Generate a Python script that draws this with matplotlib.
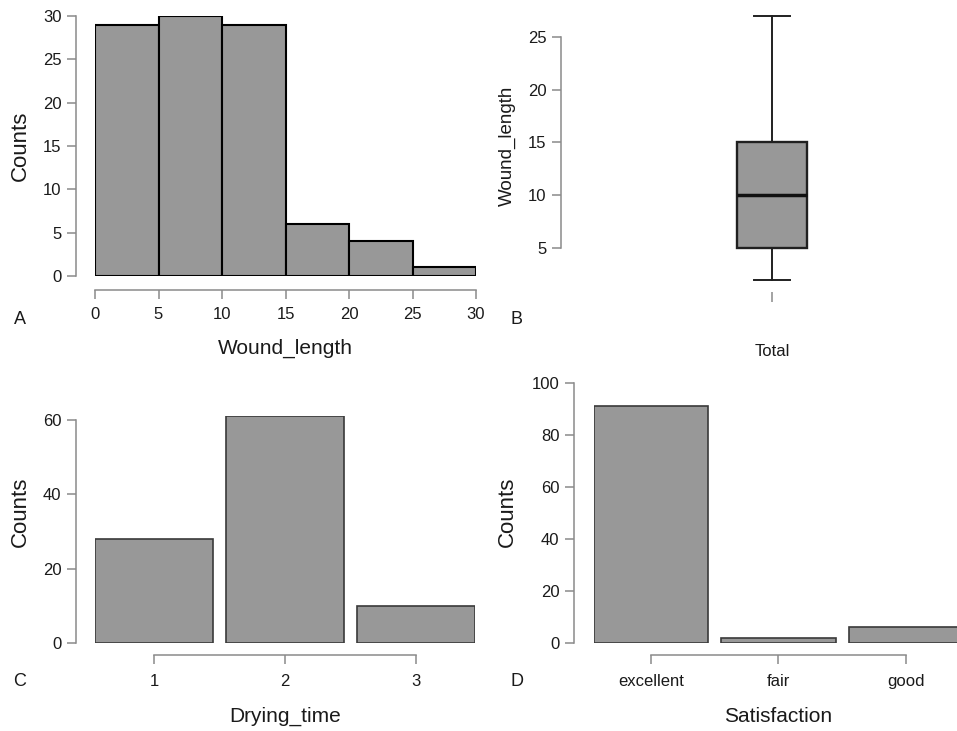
import matplotlib
matplotlib.use("Agg")
import matplotlib.pyplot as plt
import numpy as np

plt.rcParams['font.family'] = ['Liberation Sans', 'DejaVu Sans']

# panel A: histogram of wound length
wound_edges = [0, 5, 10, 15, 20, 25, 30]
wound_counts = [29, 30, 29, 6, 4, 1]

# panel B: box plot summary of wound length
box_label = "Total"
box_stats = {"whislo": 2, "q1": 5, "med": 10, "q3": 15, "whishi": 27}

# panel C: drying time
drying_levels = ["1", "2", "3"]
drying_counts = [28, 61, 10]

# panel D: satisfaction
satisfaction_levels = ["excellent", "fair", "good"]
satisfaction_counts = [91, 2, 6]

W, H = 957, 731
FILL = "#989898"
SPINE = "#8a8a8a"
TXT = "#1a1a1a"
PT = 0.72  # points per pixel at dpi 100


def px_axes(fig, left, right, top, bottom):
    return fig.add_axes([left / W, 1 - bottom / H, (right - left) / W, (bottom - top) / H])


def ftext(fig, x, y, s, **kw):
    fig.text(x / W, 1 - y / H, s, ha="center", va="center", color=TXT, **kw)


def style_ax(ax, left_out, bottom_out, ybounds, xbounds, xpad=4):
    # offsets given in pixels
    for s in ("top", "right"):
        ax.spines[s].set_visible(False)
    ax.spines["left"].set_position(("outward", left_out * PT))
    ax.spines["bottom"].set_position(("outward", bottom_out * PT))
    ax.spines["left"].set_bounds(*ybounds)
    ax.spines["bottom"].set_bounds(*xbounds)
    for s in ("left", "bottom"):
        ax.spines[s].set_color(SPINE)
        ax.spines[s].set_linewidth(1.1)
    ax.tick_params(length=6.5, width=1.1, color=SPINE, labelsize=12, labelcolor=TXT, pad=4)
    ax.tick_params(axis="x", pad=xpad)
    ax.patch.set_visible(False)


fig = plt.figure(figsize=(W / 100, H / 100), dpi=100)

# A
ax = px_axes(fig, 95, 476, 16, 276)
ax.hist(wound_edges[:-1], bins=wound_edges, weights=wound_counts,
        color=FILL, edgecolor="black", linewidth=1.5)
ax.set_xlim(0, 30)
ax.set_ylim(0, 30)
ax.set_xticks(wound_edges)
ax.set_yticks(np.arange(0, 31, 5))
style_ax(ax, 19, 14, (0, 30), (0, 30), xpad=5.5)
ftext(fig, 20, 320, "A", fontsize=13)
ftext(fig, 285, 348, "Wound_length", fontsize=15)
ftext(fig, 20, 146, "Counts", fontsize=16, rotation=90)

# B
ax = px_axes(fig, 600, 944, 10.6, 284.9)
stats = dict(box_stats, fliers=[], label="")
ax.bxp([stats], positions=[0.5], widths=0.206, capwidths=0.102, patch_artist=True,
       boxprops=dict(facecolor=FILL, edgecolor="#202020", linewidth=1.7),
       medianprops=dict(color="#111111", linewidth=2.5),
       whiskerprops=dict(color="#202020", linewidth=1.4),
       capprops=dict(color="#202020", linewidth=1.4))
ax.set_xlim(0, 1)
ax.set_ylim(1.5, 27.5)
ax.set_yticks([5, 10, 15, 20, 25])
ax.set_xticks([0.5])
ax.set_xticklabels([""])
style_ax(ax, 39, 7, (5, 25), (0.5, 0.5))
ax.spines["bottom"].set_visible(False)
ax.tick_params(axis="x", length=7)
ftext(fig, 517, 320, "B", fontsize=13)
ftext(fig, 772, 352, box_label, fontsize=12)
ftext(fig, 507, 146, "Wound_length", fontsize=13.5, rotation=90)

# C
ax = px_axes(fig, 95, 475, 416.3, 643)
xc = np.arange(1, len(drying_levels) + 1)
ax.bar(xc, drying_counts, width=0.9, color=FILL, edgecolor="#3a3a3a", linewidth=1.2)
ax.set_xlim(0.55, 3.45)
ax.set_ylim(0, 61)
ax.set_xticks(xc)
ax.set_xticklabels(drying_levels)
ax.set_yticks([0, 20, 40, 60])
style_ax(ax, 19, 12, (0, 60), (1, 3), xpad=7.5)
ftext(fig, 20, 681, "C", fontsize=13)
ftext(fig, 285, 716, "Drying_time", fontsize=15)
ftext(fig, 20, 512, "Counts", fontsize=16, rotation=90)

# D
ax = px_axes(fig, 593.6, 957, 383, 643)
xd = np.arange(1, len(satisfaction_levels) + 1)
ax.bar(xd, satisfaction_counts, width=0.9, color=FILL, edgecolor="#3a3a3a", linewidth=1.2)
ax.set_xlim(0.55, 0.55 + (957 - 593.6) / 127.5)
ax.set_ylim(0, 100)
ax.set_xticks(xd)
ax.set_xticklabels(satisfaction_levels)
ax.set_yticks(np.arange(0, 101, 20))
style_ax(ax, 19.6, 12, (0, 100), (1, 3), xpad=7.5)
ftext(fig, 517, 681, "D", fontsize=13)
ftext(fig, 778, 717, "Satisfaction", fontsize=15)
ftext(fig, 507, 512, "Counts", fontsize=16, rotation=90)

fig.savefig("out.png", dpi=100, facecolor="white")
